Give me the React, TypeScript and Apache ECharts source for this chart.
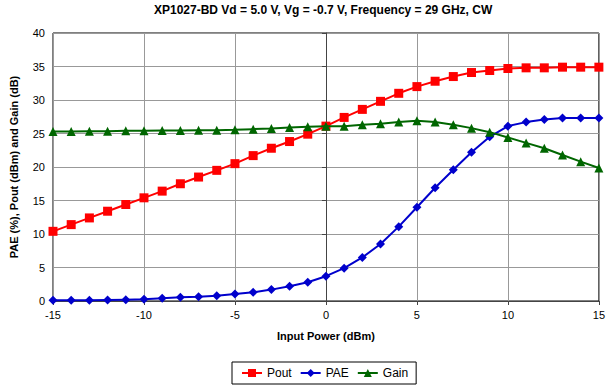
import React, { useEffect, useRef } from "react";
import * as echarts from "echarts";

const inputPower = [-15, -14, -13, -12, -11, -10, -9, -8, -7, -6, -5, -4, -3, -2, -1, 0, 1, 2, 3, 4, 5, 6, 7, 8, 9, 10, 11, 12, 13, 14, 15];
const pout = [10.4, 11.4, 12.4, 13.4, 14.4, 15.4, 16.4, 17.5, 18.5, 19.5, 20.5, 21.7, 22.8, 23.8, 24.9, 26.1, 27.4, 28.6, 29.8, 31.0, 32.0, 32.8, 33.5, 34.1, 34.4, 34.7, 34.8, 34.8, 34.9, 34.9, 34.9];
const pae = [0.1, 0.1, 0.1, 0.15, 0.2, 0.25, 0.4, 0.55, 0.65, 0.8, 1.05, 1.3, 1.7, 2.2, 2.8, 3.7, 4.9, 6.5, 8.5, 11.1, 14.0, 16.9, 19.6, 22.2, 24.5, 26.1, 26.7, 27.1, 27.3, 27.3, 27.3];
const gain = [25.3, 25.3, 25.35, 25.35, 25.4, 25.4, 25.45, 25.45, 25.5, 25.5, 25.55, 25.65, 25.75, 25.9, 26.0, 26.1, 26.1, 26.3, 26.45, 26.7, 26.9, 26.7, 26.3, 25.8, 25.2, 24.4, 23.6, 22.8, 21.8, 20.8, 19.85];

const FONT = "Liberation Sans, Arial, sans-serif";

export default function App() {
  const ref = useRef<HTMLDivElement>(null);
  useEffect(() => {
    if (!ref.current) return;
    const chart = echarts.init(ref.current, undefined, { renderer: "svg" });
    const mk = (vals: number[]) => inputPower.map((x, i) => [x, vals[i]]);
    chart.setOption({
      animation: false,
      backgroundColor: "#fff",
      textStyle: { fontFamily: FONT },
      title: {
        text: "XP1027-BD Vd = 5.0 V, Vg = -0.7 V, Frequency = 29 GHz, CW",
        left: 154,
        top: 4,
        padding: 0,
        textStyle: { fontFamily: FONT, fontSize: 12, fontWeight: "bold", color: "#000" },
      },
      grid: {
        left: 52,
        right: 7,
        top: 33,
        bottom: 86,
        show: true,
        borderColor: "#000",
        borderWidth: 1,
      },
      legend: {
        top: 362,
        left: 232,
        itemWidth: 20,
        itemHeight: 10,
        itemGap: 8,
        padding: [5, 8, 5, 9],
        borderColor: "#000",
        borderWidth: 1,
        borderRadius: 0,
        textStyle: { fontFamily: FONT, fontSize: 12, color: "#000" },
        data: ["Pout", "PAE", "Gain"],
      },
      xAxis: {
        type: "value",
        min: -15,
        max: 15,
        interval: 5,
        name: "Input Power (dBm)",
        nameLocation: "middle",
        nameGap: 29,
        nameTextStyle: { fontFamily: FONT, fontSize: 11, fontWeight: "bold", color: "#000" },
        axisLine: { show: true, lineStyle: { color: "#444", width: 1 } },
        axisTick: { show: true, length: 4, lineStyle: { color: "#444" } },
        axisLabel: { fontFamily: FONT, fontSize: 11, color: "#000", margin: 8 },
        splitLine: { show: true, lineStyle: { color: "#999", width: 1 } },
      },
      yAxis: {
        type: "value",
        min: 0,
        max: 40,
        interval: 5,
        name: "PAE (%), Pout (dBm) and Gain (dB)",
        nameLocation: "middle",
        nameGap: 34,
        nameTextStyle: { fontFamily: FONT, fontSize: 11, fontWeight: "bold", color: "#000" },
        axisLine: { show: true, lineStyle: { color: "#444", width: 1 } },
        axisTick: { show: true, length: 4, lineStyle: { color: "#444" } },
        axisLabel: { fontFamily: FONT, fontSize: 11, color: "#000", margin: 8 },
        splitLine: { show: true, lineStyle: { color: "#999", width: 1 } },
      },
      series: [
        {
          name: "Pout",
          type: "line",
          data: mk(pout),
          symbol: "rect",
          symbolSize: 9,
          itemStyle: { color: "#FF0000" },
          lineStyle: { color: "#FF0000", width: 2 },
          z: 3,
        },
        {
          name: "PAE",
          type: "line",
          data: mk(pae),
          symbol: "diamond",
          symbolSize: 9,
          itemStyle: { color: "#0000CC" },
          lineStyle: { color: "#0000CC", width: 2 },
          z: 4,
        },
        {
          name: "Gain",
          type: "line",
          data: mk(gain),
          symbol: "triangle",
          symbolSize: 9,
          itemStyle: { color: "#006600" },
          lineStyle: { color: "#006600", width: 2 },
          z: 5,
        },
      ],
    });
    return () => chart.dispose();
  }, []);
  return <div ref={ref} style={{ width: 608, height: 387, position: "absolute", left: 0, top: 0 }} />;
}
